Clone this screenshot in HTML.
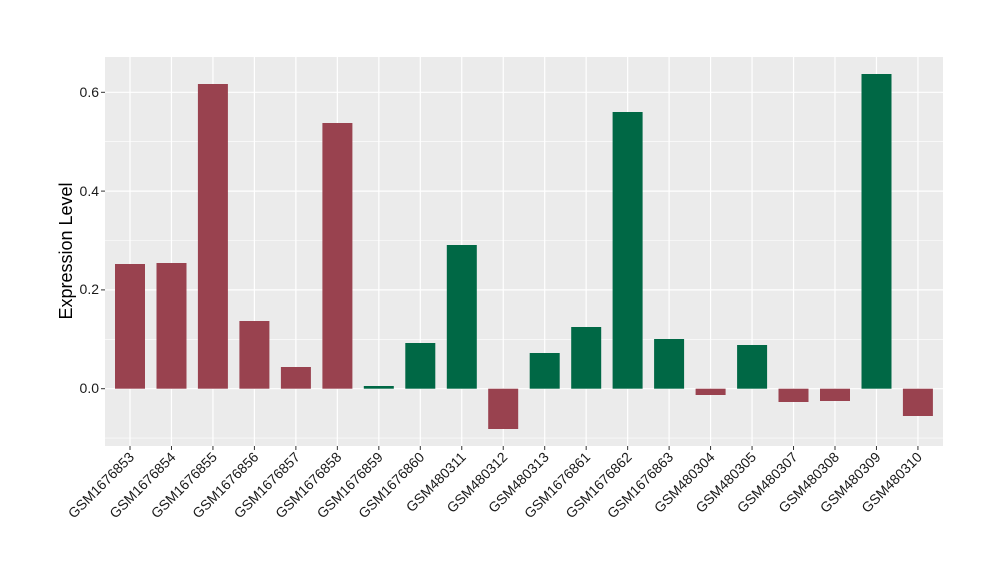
<!DOCTYPE html>
<html><head><meta charset="utf-8"><style>body{margin:0;background:#fff}svg{display:block}</style></head><body>
<svg width="1000" height="580" xmlns="http://www.w3.org/2000/svg" font-family="Liberation Sans, sans-serif">
<rect x="105" y="57" width="838" height="389" fill="#ebebeb"/>
<g stroke="#fff" stroke-width="0.6">
<line x1="105" x2="943" y1="438.1" y2="438.1"/>
<line x1="105" x2="943" y1="339.3" y2="339.3"/>
<line x1="105" x2="943" y1="240.5" y2="240.5"/>
<line x1="105" x2="943" y1="141.7" y2="141.7"/>
</g>
<g stroke="#fff" stroke-width="1.2">
<line x1="105" x2="943" y1="388.7" y2="388.7"/>
<line x1="105" x2="943" y1="289.9" y2="289.9"/>
<line x1="105" x2="943" y1="191.1" y2="191.1"/>
<line x1="105" x2="943" y1="92.3" y2="92.3"/>
<line x1="130" x2="130" y1="57" y2="446"/>
<line x1="171.47" x2="171.47" y1="57" y2="446"/>
<line x1="212.94" x2="212.94" y1="57" y2="446"/>
<line x1="254.41" x2="254.41" y1="57" y2="446"/>
<line x1="295.88" x2="295.88" y1="57" y2="446"/>
<line x1="337.35" x2="337.35" y1="57" y2="446"/>
<line x1="378.82" x2="378.82" y1="57" y2="446"/>
<line x1="420.29" x2="420.29" y1="57" y2="446"/>
<line x1="461.76" x2="461.76" y1="57" y2="446"/>
<line x1="503.23" x2="503.23" y1="57" y2="446"/>
<line x1="544.7" x2="544.7" y1="57" y2="446"/>
<line x1="586.17" x2="586.17" y1="57" y2="446"/>
<line x1="627.64" x2="627.64" y1="57" y2="446"/>
<line x1="669.11" x2="669.11" y1="57" y2="446"/>
<line x1="710.58" x2="710.58" y1="57" y2="446"/>
<line x1="752.05" x2="752.05" y1="57" y2="446"/>
<line x1="793.52" x2="793.52" y1="57" y2="446"/>
<line x1="834.99" x2="834.99" y1="57" y2="446"/>
<line x1="876.46" x2="876.46" y1="57" y2="446"/>
<line x1="917.93" x2="917.93" y1="57" y2="446"/>
</g>
<g fill="#99424f">
<rect x="115" y="264" width="30" height="124.7"/>
<rect x="156.5" y="263" width="30" height="125.7"/>
<rect x="197.9" y="84" width="30" height="304.7"/>
<rect x="239.4" y="321" width="30" height="67.7"/>
<rect x="280.9" y="367" width="30" height="21.7"/>
<rect x="322.4" y="123" width="30" height="265.7"/>
<rect x="488.2" y="388.7" width="30" height="40.3"/>
<rect x="695.6" y="388.7" width="30" height="6.3"/>
<rect x="778.5" y="388.7" width="30" height="13.3"/>
<rect x="820" y="388.7" width="30" height="12.3"/>
<rect x="902.9" y="388.7" width="30" height="27.3"/>
</g>
<g fill="#006845">
<rect x="363.8" y="386" width="30" height="2.7"/>
<rect x="405.3" y="343" width="30" height="45.7"/>
<rect x="446.8" y="245" width="30" height="143.7"/>
<rect x="529.7" y="353" width="30" height="35.7"/>
<rect x="571.2" y="327" width="30" height="61.7"/>
<rect x="612.6" y="112" width="30" height="276.7"/>
<rect x="654.1" y="339" width="30" height="49.7"/>
<rect x="737.1" y="345" width="30" height="43.7"/>
<rect x="861.5" y="74" width="30" height="314.7"/>
</g>
<g stroke="#333" stroke-width="1">
<line x1="101" x2="105" y1="388.7" y2="388.7"/>
<line x1="101" x2="105" y1="289.9" y2="289.9"/>
<line x1="101" x2="105" y1="191.1" y2="191.1"/>
<line x1="101" x2="105" y1="92.3" y2="92.3"/>
<line x1="130" x2="130" y1="446" y2="450"/>
<line x1="171.47" x2="171.47" y1="446" y2="450"/>
<line x1="212.94" x2="212.94" y1="446" y2="450"/>
<line x1="254.41" x2="254.41" y1="446" y2="450"/>
<line x1="295.88" x2="295.88" y1="446" y2="450"/>
<line x1="337.35" x2="337.35" y1="446" y2="450"/>
<line x1="378.82" x2="378.82" y1="446" y2="450"/>
<line x1="420.29" x2="420.29" y1="446" y2="450"/>
<line x1="461.76" x2="461.76" y1="446" y2="450"/>
<line x1="503.23" x2="503.23" y1="446" y2="450"/>
<line x1="544.7" x2="544.7" y1="446" y2="450"/>
<line x1="586.17" x2="586.17" y1="446" y2="450"/>
<line x1="627.64" x2="627.64" y1="446" y2="450"/>
<line x1="669.11" x2="669.11" y1="446" y2="450"/>
<line x1="710.58" x2="710.58" y1="446" y2="450"/>
<line x1="752.05" x2="752.05" y1="446" y2="450"/>
<line x1="793.52" x2="793.52" y1="446" y2="450"/>
<line x1="834.99" x2="834.99" y1="446" y2="450"/>
<line x1="876.46" x2="876.46" y1="446" y2="450"/>
<line x1="917.93" x2="917.93" y1="446" y2="450"/>
</g>
<g font-size="14" fill="#1a1a1a" text-anchor="end">
<text x="99" y="393">0.0</text>
<text x="99" y="294">0.2</text>
<text x="99" y="196">0.4</text>
<text x="99" y="97">0.6</text>
</g>
<g font-size="14" fill="#1a1a1a" text-anchor="end">
<text transform="translate(135,458) rotate(-45)">GSM1676853</text>
<text transform="translate(176.47,458) rotate(-45)">GSM1676854</text>
<text transform="translate(217.94,458) rotate(-45)">GSM1676855</text>
<text transform="translate(259.41,458) rotate(-45)">GSM1676856</text>
<text transform="translate(300.88,458) rotate(-45)">GSM1676857</text>
<text transform="translate(342.35,458) rotate(-45)">GSM1676858</text>
<text transform="translate(383.82,458) rotate(-45)">GSM1676859</text>
<text transform="translate(425.29,458) rotate(-45)">GSM1676860</text>
<text transform="translate(466.76,458) rotate(-45)">GSM480311</text>
<text transform="translate(508.23,458) rotate(-45)">GSM480312</text>
<text transform="translate(549.7,458) rotate(-45)">GSM480313</text>
<text transform="translate(591.17,458) rotate(-45)">GSM1676861</text>
<text transform="translate(632.64,458) rotate(-45)">GSM1676862</text>
<text transform="translate(674.11,458) rotate(-45)">GSM1676863</text>
<text transform="translate(715.58,458) rotate(-45)">GSM480304</text>
<text transform="translate(757.05,458) rotate(-45)">GSM480305</text>
<text transform="translate(798.52,458) rotate(-45)">GSM480307</text>
<text transform="translate(839.99,458) rotate(-45)">GSM480308</text>
<text transform="translate(881.46,458) rotate(-45)">GSM480309</text>
<text transform="translate(922.93,458) rotate(-45)">GSM480310</text>
</g>
<text transform="translate(72,251) rotate(-90)" text-anchor="middle" font-size="18" fill="#000">Expression Level</text>
</svg>
</body></html>
